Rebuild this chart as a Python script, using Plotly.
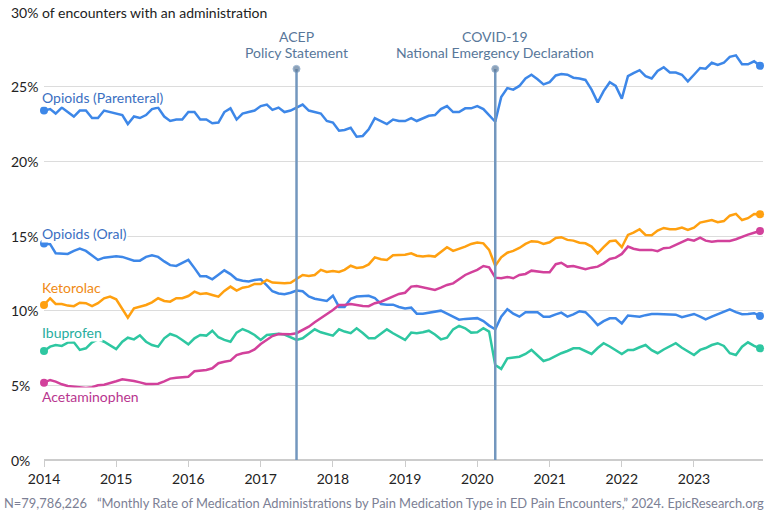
import pandas as pd
import plotly.graph_objects as go

months = pd.date_range("2014-01-01", "2023-12-01", freq="MS")

parenteral = [23.4, 23.5, 23.2, 23.6, 23.3, 23.0, 23.4, 23.4, 22.9, 22.9, 23.4, 23.3,
              23.2, 23.1, 22.5, 23.0, 22.9, 23.1, 23.5, 23.6, 23.0, 22.7, 22.8, 22.8,
              23.3, 23.3, 22.8, 22.8, 22.55, 22.6, 23.3, 23.55, 22.8, 23.2, 23.3, 23.4,
              23.7, 23.8, 23.45, 23.6, 23.3, 23.4, 23.6, 23.8, 23.4, 23.3, 23.2, 22.7,
              22.6, 22.05, 22.1, 22.25, 21.65, 21.7, 22.15, 22.9, 22.7, 22.5, 22.8, 22.7,
              22.7, 22.9, 22.7, 22.9, 23.05, 23.1, 23.5, 23.7, 23.3, 23.3, 23.55, 23.55,
              23.7, 23.5, 23.1, 22.65, 24.3, 24.9, 24.8, 25.05, 25.55, 25.8, 25.5, 25.15,
              25.3, 25.75, 25.85, 25.8, 25.6, 25.55, 25.45, 24.8, 23.95, 24.7, 25.3, 25.05,
              24.2, 25.7, 25.9, 26.1, 25.7, 25.55, 26.05, 26.3, 25.95, 25.95, 25.8, 25.35,
              25.8, 26.25, 26.2, 26.6, 26.45, 26.6, 27.0, 27.1, 26.5, 26.5, 26.7, 26.4]

oral = [14.5, 14.45, 13.85, 13.8, 13.8, 14.0, 14.15, 14.0, 13.7, 13.4, 13.55, 13.6,
        13.65, 13.6, 13.5, 13.35, 13.35, 13.6, 13.7, 13.6, 13.3, 13.05, 13.0, 13.2,
        13.4, 12.85, 12.3, 12.3, 12.1, 12.4, 12.7, 12.45, 12.1, 12.0, 11.95, 12.05,
        12.1, 11.7, 11.3, 11.15, 11.1, 11.2, 11.35, 11.3, 10.95, 10.8, 10.7, 10.65,
        11.0, 10.25, 10.25, 10.8, 10.95, 11.0, 11.0, 10.85, 10.45, 10.4, 10.4, 10.25,
        10.15, 10.2, 9.8, 9.8, 9.85, 9.95, 10.0, 9.8, 9.6, 9.4, 9.45, 9.45,
        9.5, 9.3, 9.0, 8.75, 9.6, 10.1, 9.8, 9.6, 9.9, 9.9, 9.9, 9.6,
        9.6, 9.75, 9.87, 9.6, 9.75, 9.96, 9.9, 9.5, 9.04, 9.3, 9.49, 9.49,
        9.15, 9.67, 9.65, 9.6, 9.7, 9.78, 9.78, 9.78, 9.75, 9.73, 9.56, 9.65,
        9.78, 9.6, 9.42, 9.6, 9.76, 9.9, 10.09, 9.9, 9.76, 9.78, 9.83, 9.65]

ketorolac = [10.38, 10.83, 10.45, 10.45, 10.34, 10.3, 10.53, 10.5, 10.3, 10.5, 10.83, 10.94,
             10.76, 10.16, 9.53, 10.16, 10.27, 10.38, 10.56, 10.83, 10.65, 10.6, 10.83, 10.83,
             10.98, 11.27, 11.12, 11.16, 11.05, 10.94, 11.32, 11.61, 11.34, 11.54, 11.61, 11.79,
             11.79, 12.06, 11.88, 11.83, 11.83, 11.87, 12.1, 12.39, 12.32, 12.39, 12.73, 12.59,
             12.66, 12.59, 12.73, 13.01, 12.86, 12.9, 13.1, 13.57, 13.44, 13.4, 13.71, 13.71,
             13.75, 13.84, 13.68, 13.62, 13.68, 13.62, 13.95, 14.25, 14.0, 14.13, 14.29, 14.47,
             14.56, 14.51, 14.07, 13.01, 13.57, 13.88, 14.0, 14.2, 14.47, 14.65, 14.62, 14.47,
             14.58, 14.87, 14.92, 14.74, 14.69, 14.55, 14.51, 14.29, 13.84, 14.25, 14.65, 14.69,
             14.25, 15.07, 15.22, 15.45, 15.07, 15.05, 15.36, 15.54, 15.45, 15.45, 15.56, 15.4,
             15.56, 15.9, 15.96, 16.07, 15.92, 16.0, 16.36, 16.48, 16.07, 16.19, 16.48, 16.46]

ibuprofen = [7.3, 7.59, 7.7, 7.64, 7.86, 7.88, 7.37, 7.48, 7.88, 8.08, 7.92, 7.7,
             7.43, 7.92, 8.19, 8.08, 8.35, 7.92, 7.7, 7.59, 8.15, 8.44, 8.3, 8.04,
             7.75, 8.15, 8.37, 8.33, 8.66, 8.22, 8.04, 7.92, 8.53, 8.77, 8.6, 8.37,
             8.04, 8.37, 8.4, 8.45, 8.4, 8.19, 8.04, 8.15, 8.45, 8.75, 8.55, 8.45,
             8.33, 8.75, 8.6, 8.49, 8.82, 8.5, 8.15, 8.15, 8.45, 8.75, 8.49, 8.25,
             8.04, 8.53, 8.49, 8.55, 8.66, 8.4, 8.08, 8.19, 8.75, 8.98, 8.82, 8.53,
             8.55, 8.82, 8.6, 6.36, 6.1, 6.81, 6.85, 6.92, 7.1, 7.37, 7.0, 6.63,
             6.75, 6.97, 7.15, 7.3, 7.48, 7.48, 7.3, 7.1, 7.5, 7.82, 7.6, 7.35,
             7.1, 7.37, 7.37, 7.55, 7.7, 7.35, 7.15, 7.4, 7.64, 7.82, 7.52, 7.25,
             7.03, 7.37, 7.5, 7.7, 7.82, 7.64, 7.15, 7.03, 7.59, 7.88, 7.64, 7.48]

acetaminophen = [5.18, 5.36, 5.25, 5.07, 4.96, 4.91, 4.87, 4.82, 4.87, 5.0, 5.04, 5.13,
                 5.27, 5.4, 5.36, 5.29, 5.2, 5.09, 5.09, 5.11, 5.27, 5.45, 5.51, 5.54,
                 5.58, 5.94, 5.98, 6.03, 6.14, 6.48, 6.58, 6.65, 7.03, 7.15, 7.21, 7.41,
                 7.77, 8.08, 8.3, 8.44, 8.42, 8.42, 8.49, 8.7, 8.93, 9.22, 9.49, 9.78,
                 10.05, 10.38, 10.38, 10.45, 10.38, 10.31, 10.3, 10.5, 10.6, 10.78, 10.96, 11.12,
                 11.2, 11.61, 11.65, 11.57, 11.45, 11.39, 11.54, 11.72, 11.83, 12.12, 12.39, 12.57,
                 12.73, 12.99, 12.9, 12.21, 12.17, 12.26, 12.17, 12.39, 12.46, 12.68, 12.61, 12.57,
                 12.57, 13.11, 13.21, 12.95, 12.99, 12.9, 12.77, 12.88, 12.95, 13.17, 13.46, 13.55,
                 13.8, 14.29, 14.15, 14.07, 14.07, 14.07, 13.98, 14.18, 14.22, 14.4, 14.58, 14.78,
                 14.69, 14.89, 14.69, 14.62, 14.67, 14.69, 14.67, 14.78, 14.96, 15.09, 15.22, 15.34]

series = [
    ("Opioids (Parenteral)", parenteral, "#3d87e8", "#3a6fc2", 24.3),
    ("Opioids (Oral)", oral, "#3d87e8", "#3a6fc2", 15.2),
    ("Ketorolac", ketorolac, "#ffa010", "#f08a14", 11.52),
    ("Ibuprofen", ibuprofen, "#2ec7a1", "#27ad9e", 8.57),
    ("Acetaminophen", acetaminophen, "#d2419b", "#b8368f", 4.22),
]

events = [("2017-07-01", "ACEP", "Policy Statement"),
          ("2020-04-01", "COVID-19", "National Emergency Declaration")]

y_ticks = [0, 5, 10, 15, 20, 25]
year_ticks = [f"{y}-01-01" for y in range(2014, 2024)]
year_labels = [str(y) for y in range(2014, 2024)]

FONT = "Lato, 'Open Sans', sans-serif"
fig = go.Figure()

for name, vals, col, lcol, ly in series:
    fig.add_trace(go.Scatter(x=months, y=vals, mode="lines", line=dict(color=col, width=2.5),
                             showlegend=False, hoverinfo="skip"))
    fig.add_trace(go.Scatter(x=[months[0], months[-1]], y=[vals[0], vals[-1]], mode="markers",
                             marker=dict(color=col, size=8), showlegend=False, cliponaxis=False,
                             hoverinfo="skip"))

ev_col = "#7397be"
for d, l1, l2 in events:
    fig.add_trace(go.Scatter(x=[d, d], y=[0, 26.19], mode="lines+markers",
                             line=dict(color=ev_col, width=2.5),
                             marker=dict(color="#5d7a99", size=[0, 7]),
                             showlegend=False, hoverinfo="skip", cliponaxis=False))
    fig.add_annotation(x=d, y=28.33, text=l1, showarrow=False, xanchor="center", yanchor="middle",
                       font=dict(family=FONT, size=14, color="#58779a"))
    fig.add_annotation(x=d, y=27.26, text=l2, showarrow=False, xanchor="center", yanchor="middle",
                       font=dict(family=FONT, size=14, color="#58779a"))

pw = 719.0
for name, vals, col, lcol, ly in series:
    fig.add_annotation(xref="paper", x=-3 / pw, y=ly, text=name, showarrow=False,
                       xanchor="left", yanchor="middle", bgcolor="white", borderpad=0,
                       font=dict(family=FONT, size=14, color=lcol))

for t in y_ticks:
    fig.add_annotation(xref="paper", x=-35 / pw, y=t, text=f"{t}%", showarrow=False,
                       xanchor="left", yanchor="middle",
                       font=dict(family=FONT, size=14, color="#222222"))
fig.add_annotation(xref="paper", x=-35 / pw, y=30, text="30% of encounters with an administration",
                   showarrow=False, xanchor="left", yanchor="middle", bgcolor="white", borderpad=1,
                   font=dict(family=FONT, size=14, color="#222222"))

fig.add_annotation(xref="paper", yref="paper", x=-42 / pw, y=-(503 - 460) / 448.0,
                   text="N=79,786,226   \u201cMonthly Rate of Medication Administrations by Pain Medication Type in ED Pain Encounters,\u201d 2024. EpicResearch.org",
                   showarrow=False, xanchor="left", yanchor="middle",
                   font=dict(family=FONT, size=12.9, color="#7c7f95"))

fig.update_layout(
    width=768, height=512, margin=dict(l=44, r=5, t=12, b=52),
    plot_bgcolor="white", paper_bgcolor="white",
    font=dict(family=FONT, size=14, color="#222222"),
    xaxis=dict(type="date", range=["2014-01-01", "2023-12-16"], tickvals=year_ticks,
               ticktext=year_labels, showgrid=False, zeroline=False, showline=False,
               ticks="outside", ticklen=6, tickcolor="#cccccc", tickfont=dict(size=14, color="#222222")),
    yaxis=dict(range=[0, 30], tickvals=[0, 5, 10, 15, 20, 25, 30], showticklabels=False,
               gridcolor="#dcdcdc", gridwidth=1, zeroline=True, zerolinecolor="#cccccc",
               zerolinewidth=1.5, showline=False),
)

fig.write_html("out.html")
